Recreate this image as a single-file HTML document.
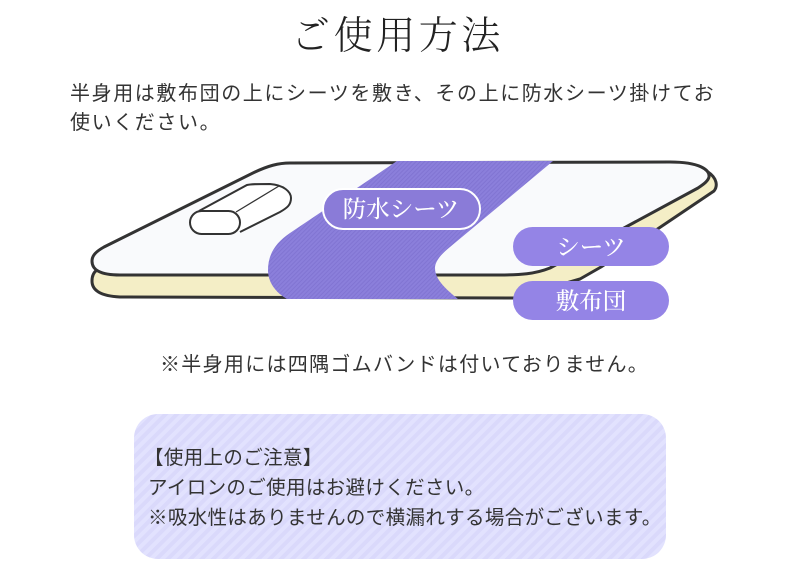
<!DOCTYPE html>
<html lang="ja"><head><meta charset="utf-8">
<style>
html,body{margin:0;padding:0;background:#fff}
#p{position:relative;width:800px;height:571px;overflow:hidden;background:#fff;font-family:"Liberation Sans","Noto Sans CJK JP",sans-serif;color:#333}
.t{position:absolute;white-space:nowrap;line-height:30px}
svg{position:absolute;left:0;top:0}
</style></head><body><div id="p">
<div class="t" style="left:291px;top:12px;line-height:50px;font-family:'Liberation Serif','Noto Serif CJK JP',serif;font-size:39px;letter-spacing:3.6px;font-weight:300;color:#222">ご使用方法</div>
<div class="t" style="left:70px;top:79px;font-size:20px;letter-spacing:1.6px">半身用は敷布団の上にシーツを敷き、その上に防水シーツ掛けてお</div>
<div class="t" style="left:70px;top:108px;font-size:20px;letter-spacing:1.6px">使いください。</div>
<svg width="800" height="571" viewBox="0 0 800 571">
<defs>
<pattern id="a" width="3" height="3" patternUnits="userSpaceOnUse" patternTransform="rotate(-45)"><rect width="3" height="3" fill="#8b7fdb"/><rect width="3" height="1" fill="#8174d2"/></pattern>
<pattern id="b" width="8" height="8" patternUnits="userSpaceOnUse" patternTransform="rotate(-45)"><rect width="8" height="8" fill="#e2e2fe"/><rect width="8" height="4" fill="#dad9fb"/></pattern>
</defs>
<path d="M708 172C717 178 718 186 714 191L601 267L580 279L515 298L120 297C100 296 92 290 92 281C92 276 94 272 97 270Z" fill="#f4eec6" stroke="#333" stroke-width="3" stroke-linejoin="round"/>
<path d="M290 163L670 162C700 162 710 170 709 177C708 181 704 184 698 188L550 268C535 274 520 275 500 275L120 275C100 275 92 270 92 261C92 255 97 251 104 247L255 172C268 166 278 163 290 163Z" fill="#f9fafc" stroke="#333" stroke-width="3" stroke-linejoin="round"/>
<path d="M397 161H553L450 247C440 255 435 262 435 268C435 280 447 290 458 299H287C275 292 268 282 268 270C268 255 275 243 290 233Z" fill="url(#a)"/>
<path d="M199 211L247 185C251 184 256 184 270 184C284 185 291 192 291 198C291 205 287 208 280 212L240 232" fill="#fff" stroke="#333" stroke-width="2"/>
<path d="M236 212L279 186" fill="none" stroke="#333" stroke-width="1.2"/>
<rect x="190" y="211" width="50" height="23" rx="11.5" fill="#fff" stroke="#333" stroke-width="2"/>
<rect x="323" y="189" width="157" height="40" rx="20" fill="#8a7bd8" stroke="#fff" stroke-width="2"/>
<rect x="513" y="227" width="156" height="39" rx="19.5" fill="#9484e6"/>
<rect x="513" y="281" width="156" height="39" rx="19.5" fill="#9484e6"/>
<g font-family="'Liberation Serif','Noto Serif CJK JP',serif" font-size="23.5" font-weight="500" fill="#fff" text-anchor="middle">
<text x="401" y="217">防水シーツ</text>
<text x="591" y="255">シーツ</text>
<text x="591" y="309">敷布団</text>
</g>
<rect x="134" y="414" width="532" height="145" rx="24" fill="url(#b)"/>
</svg>
<div class="t" style="left:160px;top:350px;font-size:20px;letter-spacing:1.3px">※半身用には四隅ゴムバンドは付いておりません。</div>
<div class="t" style="left:144px;top:443px;font-size:19.5px;letter-spacing:.35px">【使用上のご注意】</div>
<div class="t" style="left:148px;top:473px;font-size:19.5px;letter-spacing:.35px">アイロンのご使用はお避けください。</div>
<div class="t" style="left:148px;top:503px;font-size:19.5px;letter-spacing:.35px">※吸水性はありませんので横漏れする場合がございます。</div>
</div></body></html>
